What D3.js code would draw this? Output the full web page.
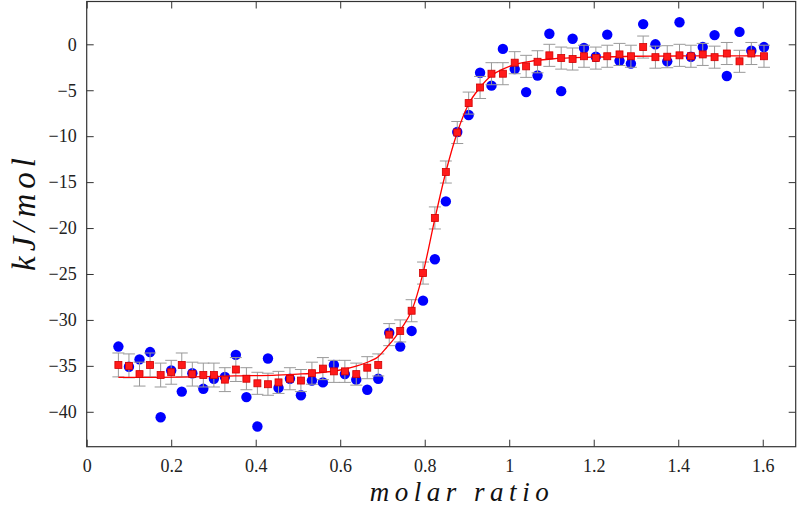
<!DOCTYPE html>
<html>
<head>
<meta charset="utf-8">
<script src="https://cdn.jsdelivr.net/npm/d3@7"></script>
<style>
  html, body { margin: 0; padding: 0; background: #fff; }
  svg { display: block; }
</style>
</head>
<body>
<svg id="chart" width="798" height="507"></svg>
<script>
// ---- data ----
const molarRatio = [0.075,0.100,0.125,0.150,0.175,0.200,0.225,0.250,0.276,0.301,0.327,0.353,0.378,0.404,0.429,0.454,0.481,0.507,0.533,0.559,0.585,0.611,0.638,0.664,0.690,0.716,0.742,0.769,0.796,0.824,0.850,0.877,0.904,0.931,0.958,0.985,1.013,1.040,1.067,1.095,1.123,1.150,1.177,1.205,1.232,1.261,1.288,1.317,1.346,1.374,1.403,1.430,1.458,1.486,1.515,1.545,1.573,1.603];
const measured = [-32.9,-35.1,-34.3,-33.5,-40.6,-35.5,-37.8,-35.8,-37.5,-36.4,-36.2,-33.8,-38.4,-41.6,-34.2,-37.4,-36.4,-38.2,-36.6,-36.8,-34.9,-35.9,-36.5,-37.6,-36.4,-31.4,-32.9,-31.2,-27.9,-23.4,-17.1,-9.55,-7.7,-3.1,-4.5,-0.5,-2.7,-5.2,-3.4,1.15,-5.1,0.6,-0.4,-1.35,1.05,-1.8,-2.1,2.2,0.0,-1.85,2.4,-1.35,-0.3,1.0,-3.45,1.35,-0.7,-0.3];
const simulated = [-34.9,-35.0,-35.9,-34.9,-36.0,-35.7,-34.9,-35.9,-36.0,-36.0,-36.5,-35.4,-36.4,-36.9,-37.0,-36.8,-36.4,-36.6,-35.8,-35.3,-35.6,-35.6,-35.9,-35.2,-34.9,-31.6,-31.2,-29.0,-24.9,-18.9,-13.9,-9.6,-6.4,-4.7,-3.2,-3.2,-2.0,-2.4,-1.9,-1.2,-1.5,-1.6,-1.3,-1.5,-1.3,-1.1,-1.3,-0.3,-1.4,-1.35,-1.2,-1.3,-1.1,-1.4,-1.0,-1.85,-1.0,-1.3];
const errors = [1.3,1.3,1.3,1.3,1.3,1.3,1.3,1.3,1.3,1.3,1.3,1.3,1.2,1.2,1.2,1.2,1.2,1.2,1.2,1.2,1.2,1.2,1.2,1.2,1.2,1.2,1.2,1.2,1.2,1.2,1.2,1.2,1.2,1.2,1.2,1.2,1.2,1.2,1.2,1.2,1.2,1.2,1.2,1.2,1.2,1.2,1.2,1.2,1.2,1.2,1.2,1.2,1.2,1.2,1.2,1.2,1.2,1.2];
const fitX = [0.075,0.15,0.25,0.35,0.45,0.5,0.55,0.6,0.64,0.67,0.69,0.71,0.73,0.745,0.77,0.796,0.824,0.85,0.877,0.904,0.931,0.958,0.985,1.013,1.05,1.1,1.2,1.3,1.4,1.5,1.603];
const fitY = [-36.25,-36.25,-36.2,-36.1,-36.0,-35.9,-35.75,-35.45,-35.0,-34.5,-34.0,-33.0,-31.9,-30.9,-28.9,-24.9,-19.0,-13.9,-9.6,-6.5,-4.7,-3.4,-2.7,-2.2,-1.85,-1.6,-1.4,-1.3,-1.27,-1.25,-1.25];
const xTicks = [0,0.2,0.4,0.6,0.8,1,1.2,1.4,1.6];
const yTicks = [0,-5,-10,-15,-20,-25,-30,-35,-40];
const xLabel = "molar ratio";
const yLabel = "kJ/mol";

// ---- layout ----
const svg = d3.select("#chart");
const L = 86.7, R = 795.7, T = 1.5, B = 446.7;
const x = d3.scaleLinear().domain([0, 1.678]).range([L, R]);
const y = d3.scaleLinear().domain([-43.8, 4.66]).range([B, T]);
const fmtX = d => (d === 0 ? "0" : d3.format("~g")(d));
const fmtY = d => (d < 0 ? "\u2212" + Math.abs(d) : String(d));
const tickLen = 7;
const axisColor = "#333";
const serif = "Liberation Serif, DejaVu Serif, Times New Roman, Times, serif";

// axes
const gx = svg.append("g").attr("transform", `translate(0,${B})`)
  .call(d3.axisBottom(x).tickValues(xTicks).tickFormat(fmtX).tickSizeInner(-tickLen).tickSizeOuter(0).tickPadding(13));
const gxt = svg.append("g").attr("transform", `translate(0,${T})`)
  .call(d3.axisTop(x).tickValues(xTicks).tickFormat("").tickSizeInner(-tickLen).tickSizeOuter(0));
const gy = svg.append("g").attr("transform", `translate(${L},0)`)
  .call(d3.axisLeft(y).tickValues(yTicks).tickFormat(fmtY).tickSizeInner(-tickLen).tickSizeOuter(0).tickPadding(10));
const gyr = svg.append("g").attr("transform", `translate(${R},0)`)
  .call(d3.axisRight(y).tickValues(yTicks).tickFormat("").tickSizeInner(-tickLen).tickSizeOuter(0));
[gx, gxt, gy, gyr].forEach(g => {
  g.select(".domain").remove();
  g.selectAll(".tick line").attr("stroke", axisColor).attr("stroke-width", 1);
  g.attr("font-family", serif).attr("font-size", 18);
  g.selectAll(".tick text").attr("font-family", serif).attr("font-size", 18).attr("fill", "#222");
});
svg.append("rect").attr("x", L).attr("y", T).attr("width", R - L).attr("height", B - T)
  .attr("fill", "none").attr("stroke", axisColor).attr("stroke-width", 1.2);

// measured points
const idx = d3.range(molarRatio.length);
svg.append("g").selectAll("circle").data(idx).join("circle")
  .attr("cx", i => x(molarRatio[i])).attr("cy", i => y(measured[i])).attr("r", 5.2)
  .attr("fill", "#0000ff");

// error bars
const eb = svg.append("g").attr("stroke", "#999").attr("stroke-width", 1).attr("fill", "none");
const cap = 6;
idx.forEach(i => {
  const cx = x(molarRatio[i]), y1 = y(simulated[i] + errors[i]), y2 = y(simulated[i] - errors[i]);
  eb.append("line").attr("x1", cx).attr("x2", cx).attr("y1", y1).attr("y2", y2);
  eb.append("line").attr("x1", cx - cap).attr("x2", cx + cap).attr("y1", y1).attr("y2", y1);
  eb.append("line").attr("x1", cx - cap).attr("x2", cx + cap).attr("y1", y2).attr("y2", y2);
});

// fit line
svg.append("path").datum(d3.range(fitX.length))
  .attr("fill", "none").attr("stroke", "#ff0000").attr("stroke-width", 1.3)
  .attr("d", d3.line().x(i => x(fitX[i])).y(i => y(fitY[i])).curve(d3.curveMonotoneX));

// simulated squares
const s = 7;
svg.append("g").selectAll("rect").data(idx).join("rect")
  .attr("x", i => x(molarRatio[i]) - s / 2).attr("y", i => y(simulated[i]) - s / 2)
  .attr("width", s).attr("height", s)
  .attr("fill", "#ff1a1a").attr("stroke", "#d00000").attr("stroke-width", 0.8);

// axis labels
svg.append("text").attr("x", 462).attr("y", 500.5)
  .attr("text-anchor", "middle")
  .attr("font-family", serif).attr("font-style", "italic")
  .attr("font-size", 27).style("letter-spacing", "5.5px").attr("fill", "#111")
  .text(xLabel);
svg.append("text").attr("transform", "translate(35,212) rotate(-90)")
  .attr("text-anchor", "middle")
  .attr("font-family", serif).attr("font-style", "italic")
  .attr("font-size", 33).style("letter-spacing", "5px").attr("fill", "#111")
  .text(yLabel);
</script>
</body>
</html>
